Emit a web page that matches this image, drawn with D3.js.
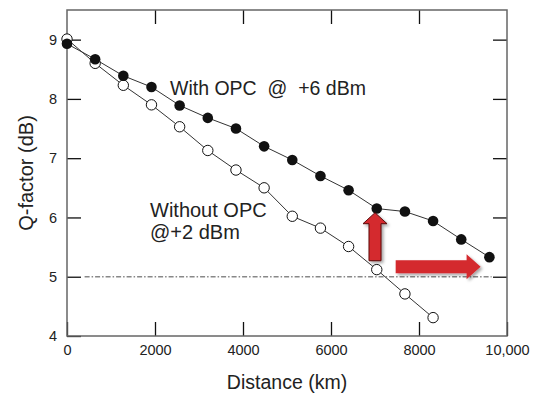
<!DOCTYPE html>
<html>
<head>
<meta charset="utf-8">
<script src="https://cdn.jsdelivr.net/npm/d3@7"></script>
<style>
  body { margin: 0; background: #fff; }
  text { font-family: "Liberation Sans", Arial, Helvetica, sans-serif; fill: #222; }
</style>
</head>
<body>
<script>
const width = 539;
const height = 395;
const margin = {top: 10, right: 32, bottom: 59, left: 67};

// distances (km) of each span end, 640 km step
const withDist = d3.range(0, 9601, 640);
const withQ = [8.93, 8.67, 8.39, 8.20, 7.89, 7.68, 7.50, 7.20, 6.97, 6.70, 6.46, 6.15, 6.10, 5.94, 5.63, 5.33];
const withoutDist = d3.range(0, 8321, 640);
const withoutQ = [9.01, 8.60, 8.23, 7.90, 7.53, 7.13, 6.80, 6.50, 6.02, 5.82, 5.51, 5.12, 4.71, 4.31];

const xTicks = [0, 2000, 4000, 6000, 8000, 10000];
const yTicks = [4, 5, 6, 7, 8, 9];
const threshold = 5;

const svg = d3.select('body')
  .append('svg')
  .attr('width', width)
  .attr('height', height);

const x = d3.scaleLinear().domain([0, 10000]).range([margin.left, width - margin.right]);
const y = d3.scaleLinear().domain([4, 9.5]).range([height - margin.bottom, margin.top]);

const defs = svg.append('defs');
const f = defs.append('filter').attr('id', 'shadow')
  .attr('x', '-30%').attr('y', '-30%').attr('width', '160%').attr('height', '160%');
f.append('feDropShadow').attr('dx', 2).attr('dy', 2).attr('stdDeviation', 1.5)
  .attr('flood-color', '#000').attr('flood-opacity', 0.35);

// threshold line
svg.append('line')
  .attr('x1', x(400)).attr('x2', x(9650))
  .attr('y1', y(threshold)).attr('y2', y(threshold))
  .attr('stroke', '#888')
  .attr('stroke-width', 1.3)
  .attr('stroke-dasharray', '5,2,1.5,2');

// axes
const fmt = d => d === 10000 ? '10,000' : d;

function styleAxis(g) {
  g.select('.domain').remove();
  g.selectAll('.tick line').attr('stroke', '#111').attr('stroke-width', 1.3);
  g.selectAll('.tick text').attr('font-size', 14.5).attr('fill', '#222')
    .style('font-family', '"Liberation Sans", Arial, sans-serif');
}

svg.append('g')
  .attr('transform', `translate(0,${y(4)})`)
  .call(d3.axisBottom(x).tickValues(xTicks).tickFormat(fmt).tickSizeInner(-14).tickSizeOuter(0).tickPadding(9))
  .call(styleAxis);

svg.append('g')
  .attr('transform', `translate(0,${y(9.5)})`)
  .call(d3.axisTop(x).tickValues(xTicks.slice(1, -1)).tickFormat('').tickSizeInner(-14).tickSizeOuter(0))
  .call(styleAxis);

svg.append('g')
  .attr('transform', `translate(${x(0)},0)`)
  .call(d3.axisLeft(y).tickValues(yTicks).tickFormat(d3.format('d')).tickSizeInner(-14).tickSizeOuter(0).tickPadding(10))
  .call(styleAxis);

svg.append('g')
  .attr('transform', `translate(${x(10000)},0)`)
  .call(d3.axisRight(y).tickValues(yTicks.slice(1)).tickFormat('').tickSizeInner(-14).tickSizeOuter(0))
  .call(styleAxis);

// frame
svg.append('rect')
  .attr('x', x(0)).attr('y', y(9.5))
  .attr('width', x(10000) - x(0)).attr('height', y(4) - y(9.5))
  .attr('fill', 'none')
  .attr('stroke', '#666')
  .attr('stroke-width', 1.5);

// axis titles
svg.append('text')
  .attr('x', (x(0) + x(10000)) / 2)
  .attr('y', 389)
  .attr('text-anchor', 'middle')
  .attr('font-size', 19.5)
  .text('Distance (km)');

svg.append('text')
  .attr('transform', `translate(33,${y(6.75)}) rotate(-90)`)
  .attr('text-anchor', 'middle')
  .attr('font-size', 20)
  .text('Q-factor (dB)');

// series
const line = d3.line().x(d => x(d[0])).y(d => y(d[1]));
const withData = withDist.map((d, i) => [d, withQ[i]]);
const withoutData = withoutDist.map((d, i) => [d, withoutQ[i]]);

svg.append('path').datum(withoutData)
  .attr('d', line).attr('fill', 'none').attr('stroke', '#333').attr('stroke-width', 1);
svg.append('path').datum(withData)
  .attr('d', line).attr('fill', 'none').attr('stroke', '#333').attr('stroke-width', 1);

svg.append('g').selectAll('circle')
  .data(withoutData)
  .join('circle')
  .attr('cx', d => x(d[0])).attr('cy', d => y(d[1]))
  .attr('r', 5.2)
  .attr('fill', '#fff').attr('stroke', '#111').attr('stroke-width', 1);

svg.append('g').selectAll('circle')
  .data(withData)
  .join('circle')
  .attr('cx', d => x(d[0])).attr('cy', d => y(d[1]))
  .attr('r', 5.3)
  .attr('fill', '#111');

// labels
svg.append('text')
  .attr('x', 170).attr('y', 95)
  .attr('font-size', 19.5)
  .attr('xml:space', 'preserve')
  .style('white-space', 'pre')
  .text('With OPC  @  +6 dBm');

const lab2 = svg.append('text').attr('font-size', 20);
lab2.append('tspan').attr('x', 150).attr('y', 217).text('Without OPC');
lab2.append('tspan').attr('x', 150).attr('y', 239).text('@+2 dBm');

// arrows
function upArrow(cx, y0, y1) {
  const xc = x(cx), yb = y(y0), yt = y(y1);
  const sw = 6, hw = 12, hl = 11;
  return d3.line()([[xc - sw, yb], [xc - sw, yt + hl], [xc - hw, yt + hl], [xc, yt],
    [xc + hw, yt + hl], [xc + sw, yt + hl], [xc + sw, yb]]) + 'Z';
}
function rightArrow(x0, x1, yv) {
  const xl = x(x0), xr = x(x1), yc = y(yv);
  const sh = 6.5, hh = 12.5, hl = 14;
  return d3.line()([[xl, yc - sh], [xr - hl, yc - sh], [xr - hl, yc - hh], [xr, yc],
    [xr - hl, yc + hh], [xr - hl, yc + sh], [xl, yc + sh]]) + 'Z';
}

svg.append('path')
  .attr('d', upArrow(7000, 5.27, 6.08))
  .attr('fill', '#d42a2e').attr('stroke', '#5a0a0c').attr('stroke-width', 1)
  .attr('filter', 'url(#shadow)');

svg.append('path')
  .attr('d', rightArrow(7470, 9400, 5.17))
  .attr('fill', '#d42a2e').attr('stroke', 'none')
  .attr('filter', 'url(#shadow)');
</script>
</body>
</html>
